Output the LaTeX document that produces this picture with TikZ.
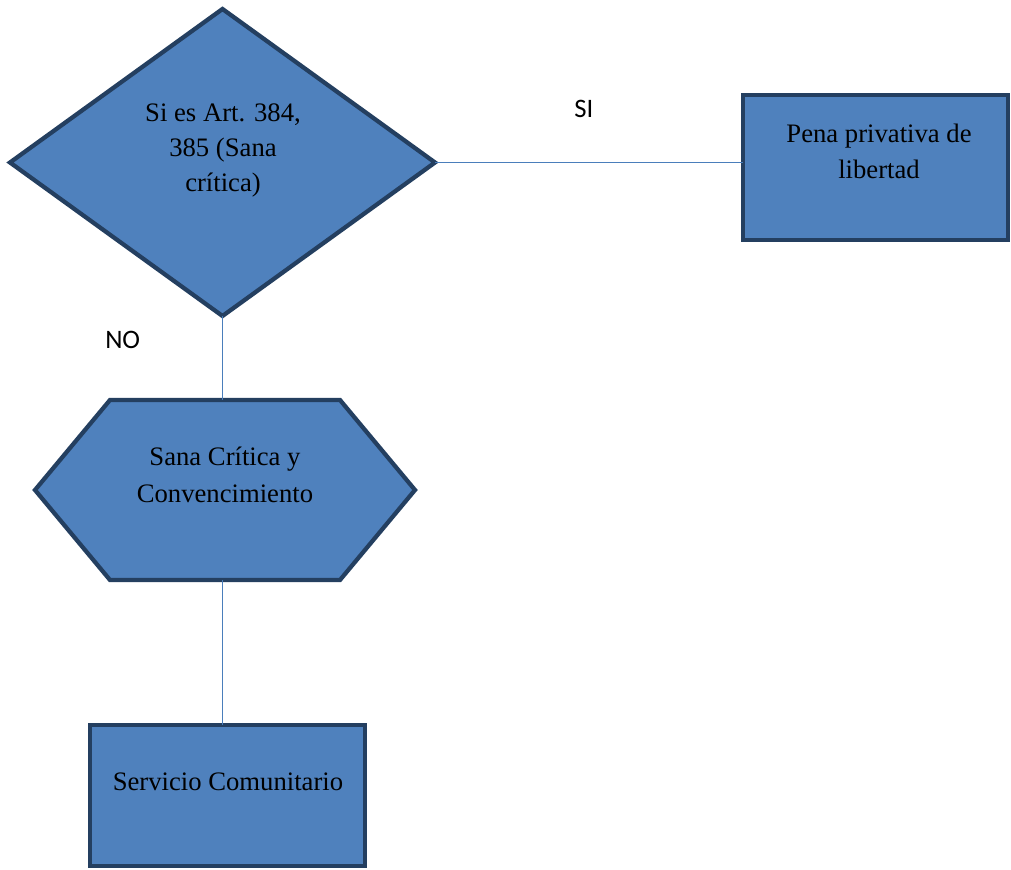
\documentclass[tikz,border=0pt]{standalone}
\usepackage{fontspec}
\setmainfont{Liberation Serif}
\newfontfamily\lblfont{Carlito}
\usetikzlibrary{shapes.geometric}
\definecolor{boxfill}{HTML}{4F81BD}
\definecolor{boxline}{HTML}{243F60}
\definecolor{conn}{HTML}{4A7EBB}
\begin{document}
\begin{tikzpicture}[x=0.75pt,y=-0.75pt,
  shapebox/.style={draw=boxline,fill=boxfill,line width=3.2pt,inner sep=0pt,outer sep=0pt},
  diabox/.style={shapebox,diamond,minimum width=318.75pt,minimum height=230.25pt},
  rectbox/.style={shapebox,rectangle},
  hexarea/.style={rectangle,inner sep=0pt,outer sep=0pt,minimum width=285pt,minimum height=135pt},
  txt/.style={anchor=base,inner sep=0pt,font=\fontsize{20pt}{26pt}\selectfont},
  lbl/.style={anchor=base west,inner sep=0pt,font=\lblfont\fontsize{20pt}{26pt}\selectfont},
  connector/.style={draw=conn,line width=1.1pt}]
\useasboundingbox (0,0) rectangle (1011,870);
\fill[white] (0,0) rectangle (1011,870);

% connectors (drawn first, under shapes)
\node[diabox] (d) at (222.5,162.5) {};
\node[rectbox,minimum width=198.75pt,minimum height=108.75pt] (pena) at (875.5,167.5) {};
\node[hexarea] (hex) at (225,490) {};
\node[rectbox,minimum width=206.25pt,minimum height=105.75pt] (serv) at (227.5,795.5) {};

\draw[shapebox] (35,490) -- (110,400) -- (340,400) -- (415,490) -- (340,580) -- (110,580) -- cycle;

\draw[connector] (d.east) -- (d.east -| pena.west);
\draw[connector] (d.south) -- (d.south |- hex.north);
\draw[connector] (d.south |- hex.south) -- (d.south |- serv.north);

% texts
\node[txt] (d1) at (223,122) {Si es Art. 384,};
\node[txt] (d2) at (223,157) {385 (Sana};
\node[txt] (d3) at (223,192) {crítica)};

\node[txt] (p1) at (879,143) {Pena privativa de};
\node[txt] (p2) at (879,179) {libertad};

\node[txt] (h1) at (225,465) {Sana Crítica y};
\node[txt] (h2) at (225,502) {Convencimiento};

\node[txt] (s1) at (228,790) {Servicio Comunitario};

\node[lbl] (si) at (574,118) {SI};
\node[lbl] (no) at (105,348) {NO};
\end{tikzpicture}
\end{document}
